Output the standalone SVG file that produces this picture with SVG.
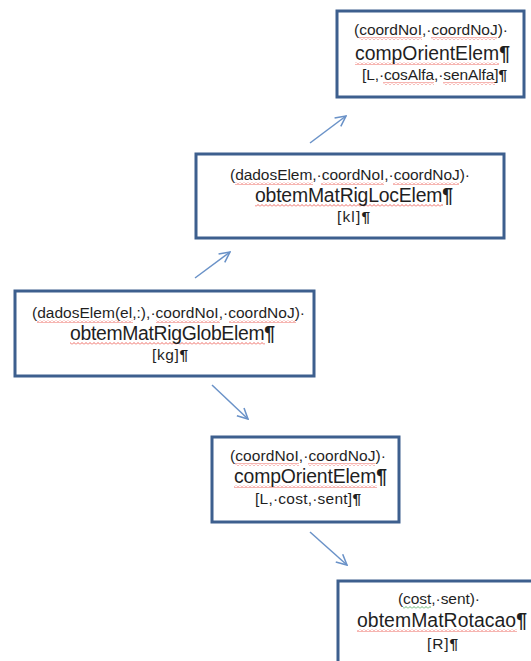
<svg xmlns="http://www.w3.org/2000/svg" width="531" height="661" viewBox="0 0 531 661">
  <style>
    .box { fill: #ffffff; stroke: #3D5F8E; stroke-width: 3; }
    .s { font-family: "Liberation Sans", Arial, sans-serif; font-size: 15.5px; fill: #1f1f1f; }
    .b { font-family: "Liberation Sans", Arial, sans-serif; font-size: 19.4px; fill: #1f1f1f; }
    .p { font-weight: bold; }
    .conn { stroke: #6A92C8; stroke-width: 1.5; fill: none; marker-end: url(#arr); }
    .sp { fill: url(#wavyRed); }
    .gr { fill: url(#wavyGreen); }
  </style>
  <defs>
    <marker id="arr" viewBox="0 0 10 10" refX="9" refY="5" markerWidth="13" markerHeight="13" markerUnits="userSpaceOnUse" orient="auto">
      <path d="M1,1 L9,5 L1,9" fill="none" stroke="#6A92C8" stroke-width="1.2"/>
    </marker>
    <pattern id="wavyRed" width="4" height="3" patternUnits="userSpaceOnUse">
      <path d="M0,2.5 L2,0.5 L4,2.5" fill="none" stroke="#E8453C" stroke-width="0.8"/>
    </pattern>
    <pattern id="wavyGreen" width="4" height="3" patternUnits="userSpaceOnUse">
      <path d="M0,2.5 L2,0.5 L4,2.5" fill="none" stroke="#3FA34D" stroke-width="0.8"/>
    </pattern>
  </defs>

  <g id="connectors">
    <line class="conn" x1="310" y1="143" x2="346" y2="116"/>
    <line class="conn" x1="195" y1="278" x2="230" y2="252"/>
    <line class="conn" x1="212" y1="385" x2="248" y2="419"/>
    <line class="conn" x1="310" y1="532" x2="347" y2="565"/>
  </g>

  <g id="node-compOrientElem-top">
    <rect class="box" x="337" y="11" width="187" height="86"/>
    <rect class="sp" x="359" y="37" width="63" height="3"/>
    <rect class="sp" x="431" y="37" width="66" height="3"/>
    <rect class="sp" x="355" y="62" width="144" height="3"/>
    <rect class="sp" x="383" y="82" width="51" height="3"/>
    <rect class="sp" x="443" y="82" width="52" height="3"/>
    <text class="s" x="354" y="35" textLength="154">(coordNoI,·coordNoJ)·</text>
    <text class="b" x="355" y="60" textLength="155">compOrientElem<tspan class="p">¶</tspan></text>
    <text class="s" x="362" y="80" textLength="145">[L,·cosAlfa,·senAlfa]<tspan class="p">¶</tspan></text>
  </g>

  <g id="node-obtemMatRigLocElem">
    <rect class="box" x="196" y="154" width="308" height="84"/>
    <rect class="sp" x="235" y="182" width="78" height="3"/>
    <rect class="sp" x="321" y="182" width="63" height="3"/>
    <rect class="sp" x="393" y="182" width="66" height="3"/>
    <rect class="sp" x="255" y="204" width="188" height="3"/>
    <text class="s" x="230" y="180" textLength="240">(dadosElem,·coordNoI,·coordNoJ)·</text>
    <text class="b" x="255" y="202" textLength="198">obtemMatRigLocElem<tspan class="p">¶</tspan></text>
    <text class="s" x="337" y="222" textLength="33">[kl]<tspan class="p">¶</tspan></text>
  </g>

  <g id="node-obtemMatRigGlobElem">
    <rect class="box" x="15" y="291" width="299" height="85"/>
    <rect class="sp" x="37" y="320" width="96" height="3"/>
    <rect class="sp" x="156" y="320" width="64" height="3"/>
    <rect class="sp" x="229" y="320" width="67" height="3"/>
    <rect class="sp" x="70" y="342" width="195" height="3"/>
    <text class="s" x="32" y="318" textLength="273">(dadosElem(el,:),·coordNoI,·coordNoJ)·</text>
    <text class="b" x="70" y="340" textLength="205">obtemMatRigGlobElem<tspan class="p">¶</tspan></text>
    <text class="s" x="152" y="360" textLength="36">[kg]<tspan class="p">¶</tspan></text>
  </g>

  <g id="node-compOrientElem-bottom">
    <rect class="box" x="212" y="437" width="187" height="85"/>
    <rect class="sp" x="235" y="463" width="64" height="3"/>
    <rect class="sp" x="308" y="463" width="67" height="3"/>
    <rect class="sp" x="234" y="485" width="143" height="3"/>
    <text class="s" x="230" y="461" textLength="156">(coordNoI,·coordNoJ)·</text>
    <text class="b" x="234" y="483" textLength="153">compOrientElem<tspan class="p">¶</tspan></text>
    <text class="s" x="255" y="504" textLength="106">[L,·cost,·sent]<tspan class="p">¶</tspan></text>
  </g>

  <g id="node-obtemMatRotacao">
    <rect class="box" x="338" y="581" width="210" height="100"/>
    <rect class="gr" x="403" y="606" width="28" height="3"/>
    <rect class="sp" x="357" y="629" width="160" height="3"/>
    <text class="s" x="398" y="604" textLength="82">(cost,·sent)·</text>
    <text class="b" x="357" y="627" textLength="170">obtemMatRotacao<tspan class="p">¶</tspan></text>
    <text class="s" x="427" y="649" textLength="31">[R]<tspan class="p">¶</tspan></text>
  </g>
</svg>
